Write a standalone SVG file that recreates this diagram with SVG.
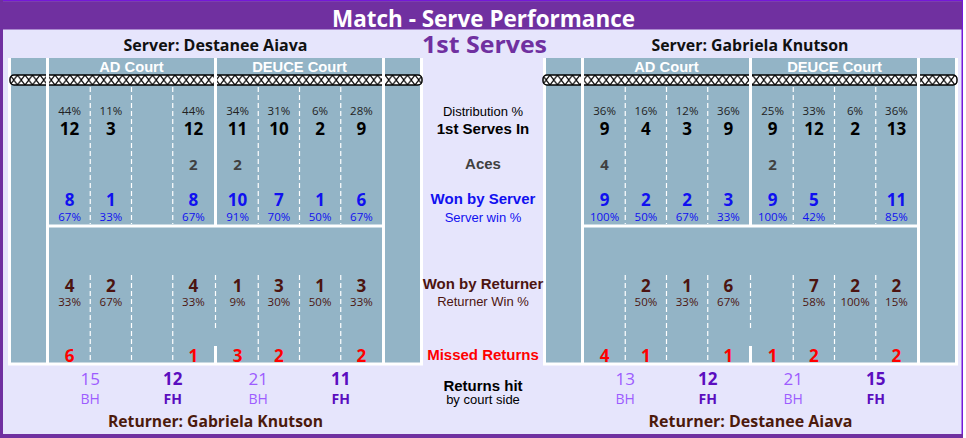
<svg xmlns="http://www.w3.org/2000/svg" width="966" height="438" viewBox="0 0 966 438">
<defs>
<pattern id="netpat" patternUnits="userSpaceOnUse" x="10" y="75" width="7.5" height="10">
<rect width="7.5" height="10" fill="#fff"/>
<path d="M0,0 L7.5,10 M7.5,0 L0,10" stroke="#000" stroke-width="1.2"/>
</pattern>
<style>
.court{fill:#93B4C6}
.wl{fill:#fff}
.dash{stroke:#fff;stroke-width:1.2;stroke-dasharray:5 3;fill:none}
.net{fill:url(#netpat);stroke:#000;stroke-width:1.5}
.hdr{font-family:"Liberation Sans",Arial,sans-serif;font-weight:700;font-size:14.7px;fill:#fff;text-anchor:middle}
.os{font-family:"Open Sans","Noto Sans",sans-serif;text-anchor:middle}
.pct{font-size:11.5px;fill:#222}
.num{font-size:17px;font-weight:700;fill:#000}
.ace{font-size:15px;font-weight:700;fill:#404040}
.srv{font-size:17px;font-weight:700;fill:#1010F0}
.srvp{font-size:11.5px;fill:#1010F0}
.ret{font-size:17px;font-weight:700;fill:#4C1410}
.retp{font-size:11.5px;fill:#4C1410}
.miss{font-size:17px;font-weight:700;fill:#FF0000}
.rhl{font-size:17px;fill:#9D5CFF}
.rhb{font-size:17px;font-weight:700;fill:#5B0DBF}
.bh{font-size:14px;fill:#9D5CFF}
.fh{font-size:14px;font-weight:700;fill:#5B0DBF}
.name{font-size:16px;font-weight:700;fill:#111}
.rname{font-size:16px;font-weight:700;fill:#4C1A0C}
.lab{font-family:"Liberation Sans",Arial,sans-serif;text-anchor:middle}
.lb{font-size:15px;font-weight:700}
.lr{font-size:13px}
</style>
</defs>

<g id="frame">
<rect x="0.75" y="0.75" width="961.5" height="436.5" fill="#E6E5FC" stroke="#7518D8" stroke-width="1.5"/>
<rect x="0" y="0" width="3" height="438" fill="#7030A0"/>
<rect x="0" y="1.2" width="962" height="28.3" fill="#7030A0"/>
<rect x="0" y="434" width="963" height="4" fill="#7030A0"/>
<text x="483.5" y="26.5" class="os" font-size="24" font-weight="700" fill="#fff" textLength="303" lengthAdjust="spacingAndGlyphs">Match - Serve Performance</text>
<text x="484.5" y="53.3" class="os" font-size="23" font-weight="700" fill="#7030A0" textLength="125" lengthAdjust="spacingAndGlyphs">1st Serves</text>
</g>

<g id="left-court">
<rect x="8" y="58" width="415" height="307.5" class="wl"/>
<rect x="11" y="58" width="409" height="304.5" class="court"/>
<rect x="10" y="75" width="412" height="10" rx="4" class="net"/>
<rect x="46" y="58" width="3" height="306" class="wl"/>
<rect x="382" y="58" width="3" height="306" class="wl"/>
<rect x="214" y="58" width="3" height="168" class="wl"/>
<rect x="46" y="224.5" width="339" height="3" class="wl"/>
<rect x="214" y="346" width="3" height="18" class="wl"/>
<path class="dash" d="M90.25,87V224M131.5,87V224M172.75,87V224M258.25,87V224M299.5,87V224M340.75,87V224M90.25,275V362M131.5,275V362M172.75,275V362M258.25,275V362M299.5,275V362M340.75,275V362M215.5,275V328"/>
<text x="131.5" y="71.5" class="hdr">AD Court</text>
<text x="299.5" y="71.5" class="hdr">DEUCE Court</text>
<text x="215.5" y="51" class="os name" textLength="184" lengthAdjust="spacingAndGlyphs">Server: Destanee Aiava</text>
<g class="os pct">
<text x="69.6" y="115">44%</text><text x="110.9" y="115">11%</text><text x="193.4" y="115">44%</text><text x="237.6" y="115">34%</text><text x="278.9" y="115">31%</text><text x="320.1" y="115">6%</text><text x="361.4" y="115">28%</text>
</g>
<g class="os num">
<text x="69.6" y="135">12</text><text x="110.9" y="135">3</text><text x="193.4" y="135">12</text><text x="237.6" y="135">11</text><text x="278.9" y="135">10</text><text x="320.1" y="135">2</text><text x="361.4" y="135">9</text>
</g>
<g class="os ace">
<text x="193.4" y="170">2</text><text x="237.6" y="170">2</text>
</g>
<g class="os srv">
<text x="69.6" y="206">8</text><text x="110.9" y="206">1</text><text x="193.4" y="206">8</text><text x="237.6" y="206">10</text><text x="278.9" y="206">7</text><text x="320.1" y="206">1</text><text x="361.4" y="206">6</text>
</g>
<g class="os srvp">
<text x="69.6" y="221">67%</text><text x="110.9" y="221">33%</text><text x="193.4" y="221">67%</text><text x="237.6" y="221">91%</text><text x="278.9" y="221">70%</text><text x="320.1" y="221">50%</text><text x="361.4" y="221">67%</text>
</g>
<g class="os ret">
<text x="69.6" y="292">4</text><text x="110.9" y="292">2</text><text x="193.4" y="292">4</text><text x="237.6" y="292">1</text><text x="278.9" y="292">3</text><text x="320.1" y="292">1</text><text x="361.4" y="292">3</text>
</g>
<g class="os retp">
<text x="69.6" y="306">33%</text><text x="110.9" y="306">67%</text><text x="193.4" y="306">33%</text><text x="237.6" y="306">9%</text><text x="278.9" y="306">30%</text><text x="320.1" y="306">50%</text><text x="361.4" y="306">33%</text>
</g>
<g class="os miss">
<text x="69.6" y="361.5">6</text><text x="193.4" y="361.5">1</text><text x="237.6" y="361.5">3</text><text x="278.9" y="361.5">2</text><text x="361.4" y="361.5">2</text>
</g>
<g class="os">
<text x="90.25" y="385" class="rhl">15</text><text x="172.75" y="385" class="rhb">12</text><text x="258.25" y="385" class="rhl">21</text><text x="340.75" y="385" class="rhb">11</text>
<text x="90.25" y="404" class="bh">BH</text><text x="172.75" y="404" class="fh">FH</text><text x="258.25" y="404" class="bh">BH</text><text x="340.75" y="404" class="fh">FH</text>
</g>
<text x="215.5" y="427" class="os rname" textLength="215" lengthAdjust="spacingAndGlyphs">Returner: Gabriela Knutson</text>
</g>

<g id="right-court">
<rect x="543" y="58" width="415" height="307.5" class="wl"/>
<rect x="546" y="58" width="409" height="304.5" class="court"/>
<rect x="543" y="75" width="414" height="10" rx="4" class="net"/>
<rect x="581" y="58" width="3" height="306" class="wl"/>
<rect x="917" y="58" width="3" height="306" class="wl"/>
<rect x="749" y="58" width="3" height="168" class="wl"/>
<rect x="581" y="224.5" width="339" height="3" class="wl"/>
<rect x="749" y="346" width="3" height="18" class="wl"/>
<path class="dash" d="M625.25,87V224M666.5,87V224M707.75,87V224M793.25,87V224M834.5,87V224M875.75,87V224M625.25,275V362M666.5,275V362M707.75,275V362M793.25,275V362M834.5,275V362M875.75,275V362M750.5,275V328"/>
<text x="666.5" y="71.5" class="hdr">AD Court</text>
<text x="834.5" y="71.5" class="hdr">DEUCE Court</text>
<text x="750" y="51" class="os name" textLength="197" lengthAdjust="spacingAndGlyphs">Server: Gabriela Knutson</text>
<g class="os pct">
<text x="604.6" y="115">36%</text><text x="645.9" y="115">16%</text><text x="687.1" y="115">12%</text><text x="728.4" y="115">36%</text><text x="772.6" y="115">25%</text><text x="813.9" y="115">33%</text><text x="855.1" y="115">6%</text><text x="896.4" y="115">36%</text>
</g>
<g class="os num">
<text x="604.6" y="135">9</text><text x="645.9" y="135">4</text><text x="687.1" y="135">3</text><text x="728.4" y="135">9</text><text x="772.6" y="135">9</text><text x="813.9" y="135">12</text><text x="855.1" y="135">2</text><text x="896.4" y="135">13</text>
</g>
<g class="os ace">
<text x="604.6" y="170">4</text><text x="772.6" y="170">2</text>
</g>
<g class="os srv">
<text x="604.6" y="206">9</text><text x="645.9" y="206">2</text><text x="687.1" y="206">2</text><text x="728.4" y="206">3</text><text x="772.6" y="206">9</text><text x="813.9" y="206">5</text><text x="896.4" y="206">11</text>
</g>
<g class="os srvp">
<text x="604.6" y="221">100%</text><text x="645.9" y="221">50%</text><text x="687.1" y="221">67%</text><text x="728.4" y="221">33%</text><text x="772.6" y="221">100%</text><text x="813.9" y="221">42%</text><text x="896.4" y="221">85%</text>
</g>
<g class="os ret">
<text x="645.9" y="292">2</text><text x="687.1" y="292">1</text><text x="728.4" y="292">6</text><text x="813.9" y="292">7</text><text x="855.1" y="292">2</text><text x="896.4" y="292">2</text>
</g>
<g class="os retp">
<text x="645.9" y="306">50%</text><text x="687.1" y="306">33%</text><text x="728.4" y="306">67%</text><text x="813.9" y="306">58%</text><text x="855.1" y="306">100%</text><text x="896.4" y="306">15%</text>
</g>
<g class="os miss">
<text x="604.6" y="361.5">4</text><text x="645.9" y="361.5">1</text><text x="728.4" y="361.5">1</text><text x="772.6" y="361.5">1</text><text x="813.9" y="361.5">2</text><text x="896.4" y="361.5">2</text>
</g>
<g class="os">
<text x="625.25" y="385" class="rhl">13</text><text x="707.75" y="385" class="rhb">12</text><text x="793.25" y="385" class="rhl">21</text><text x="875.75" y="385" class="rhb">15</text>
<text x="625.25" y="404" class="bh">BH</text><text x="707.75" y="404" class="fh">FH</text><text x="793.25" y="404" class="bh">BH</text><text x="875.75" y="404" class="fh">FH</text>
</g>
<text x="750.5" y="427" class="os rname" textLength="204" lengthAdjust="spacingAndGlyphs">Returner: Destanee Aiava</text>
</g>

<g id="row-labels" class="lab">
<text x="483" y="115.5" class="lr" fill="#000">Distribution %</text>
<text x="483" y="134" class="lb" fill="#000">1st Serves In</text>
<text x="483" y="169" class="lb" fill="#404040">Aces</text>
<text x="483" y="204" class="lb" fill="#1010F0">Won by Server</text>
<text x="483" y="221.5" class="lr" fill="#1010F0">Server win %</text>
<text x="483" y="289" class="lb" fill="#4C1410">Won by Returner</text>
<text x="483" y="306" class="lr" fill="#4C1410">Returner Win %</text>
<text x="483" y="360" class="lb" fill="#FF0000">Missed Returns</text>
<text x="483" y="390.5" class="lb" fill="#000">Returns hit</text>
<text x="483" y="403.5" class="lr" fill="#000">by court side</text>
</g>
</svg>
